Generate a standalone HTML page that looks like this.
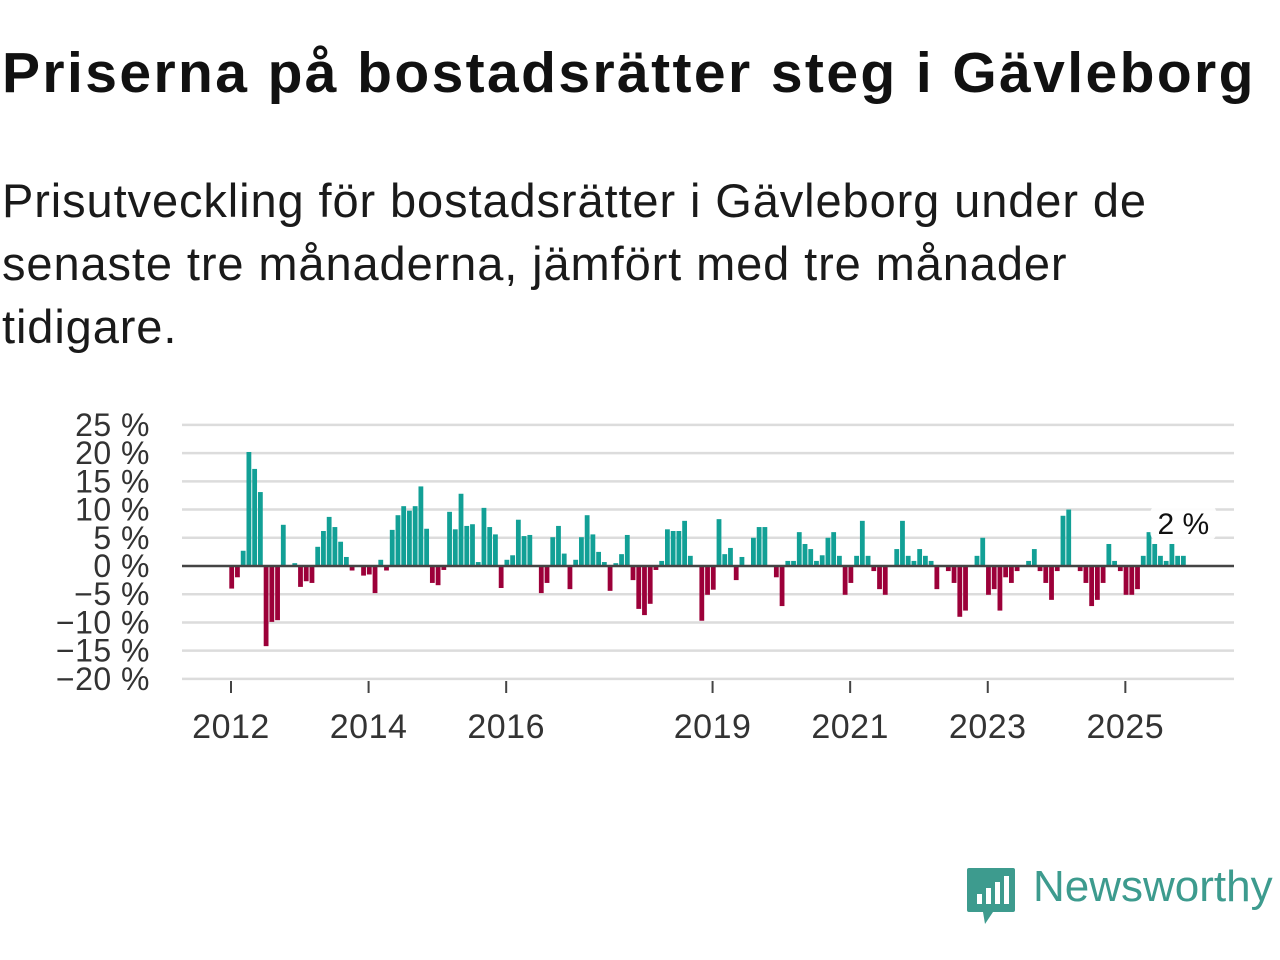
<!DOCTYPE html>
<html><head><meta charset="utf-8">
<style>
body{margin:0;width:1280px;height:960px;background:#fff;overflow:hidden;font-family:"Liberation Sans",sans-serif;color:#111}
h1{position:absolute;left:2px;top:40px;margin:0;font-size:57px;font-weight:bold;letter-spacing:2.4px;color:#111;white-space:nowrap}
.sub{position:absolute;left:2px;top:169px;margin:0;font-size:47px;line-height:63px;width:1275px;color:#1a1a1a;letter-spacing:0.9px;white-space:nowrap}
svg{position:absolute;left:0;top:0}
</style></head><body>
<h1>Priserna på bostadsrätter steg i Gävleborg</h1>
<p class="sub">Prisutveckling för bostadsrätter i Gävleborg under de<br>senaste tre månaderna, jämfört med tre månader<br>tidigare.</p>
<svg id="chart" width="1280" height="960"></svg>
<div style="position:absolute;left:965px;top:866px;">
<svg width="52" height="60" viewBox="0 0 52 60" style="position:static">
<path d="M4 2H48Q50 2 50 4V44Q50 46 48 46H28L20 58L18 46H4Q2 46 2 44V4Q2 2 4 2Z" fill="#3d9b8e"/>
<rect x="12" y="28" width="5" height="10" fill="#fff"/><rect x="21" y="22" width="5" height="16" fill="#fff"/><rect x="30" y="16" width="5" height="22" fill="#fff"/><rect x="39" y="10" width="5" height="28" fill="#fff"/>
</svg>
<span style="position:absolute;left:68px;top:-4px;font-size:44px;color:#3d9b8e;white-space:nowrap">Newsworthy</span>
</div>
<script>
const values=[-4,-2,2.7,20.2,17.2,13.1,-14.2,-9.9,-9.6,7.3,0,0.5,-3.7,-2.7,-3,3.4,6.2,8.7,6.9,4.3,1.6,-0.8,0,-1.7,-1.5,-4.8,1.1,-0.8,6.4,9.0,10.6,9.8,10.6,14.1,6.6,-3,-3.4,-0.7,9.6,6.5,12.8,7.1,7.4,0.7,10.3,6.9,5.6,-3.9,1.1,1.9,8.2,5.3,5.5,0,-4.8,-3,5.1,7.1,2.2,-4.1,1.1,5.1,9.0,5.6,2.5,0.7,-4.4,0.5,2.1,5.5,-2.5,-7.6,-8.7,-6.7,-0.7,0.9,6.5,6.2,6.2,8.0,1.8,0,-9.7,-5.1,-4.2,8.3,2.1,3.2,-2.5,1.6,0,5.0,6.9,6.9,0,-2,-7.1,0.9,0.9,6.0,3.9,3.0,0.9,1.9,5.0,6.0,1.8,-5.1,-3.0,1.8,8.0,1.8,-0.9,-4.1,-5.1,0,3.0,8.0,1.8,0.9,3.0,1.8,0.9,-4.1,0,-0.9,-3.0,-9.0,-7.9,0,1.8,5.0,-5.1,-4.1,-7.9,-2.0,-3.0,-0.9,0,0.9,3.0,-0.9,-3.0,-6.0,-0.9,8.9,10.0,0,-0.9,-3.0,-7.1,-6.0,-3.0,3.9,0.9,-0.9,-5.1,-5.1,-4.1,1.8,6.0,3.9,1.8,0.9,3.9,1.8,1.8];
const yTicks=[25,20,15,10,5,0,-5,-10,-15,-20];
const yTickLabels=["25 %","20 %","15 %","10 %","5 %","0 %","\u22125 %","\u221210 %","\u221215 %","\u221220 %"];
const xTickYears=[2012,2014,2016,2019,2021,2023,2025];
const lastLabel="2 %";
const svg=document.getElementById('chart');
const NS="http://www.w3.org/2000/svg";
const x0=182,x1=1234;
function y(v){return 566-v*5.644;}
function xm(i){return 231.7+i*5.733;}
function xYear(yr){return xm((yr-2012)*12)-0.7;}
function mk(t,a){const e=document.createElementNS(NS,t);for(const k in a)e.setAttribute(k,a[k]);svg.appendChild(e);return e;}
yTicks.forEach((v,k)=>{
  if(v!==0){const g=mk('line',{x1:x0,x2:x1,y1:y(v),y2:y(v),stroke:'#dcdcdc','stroke-width':2.5});
  
  }
  const t=mk('text',{x:150,y:y(v)+11,'text-anchor':'end','font-size':32,fill:'#333','font-family':'Liberation Sans, sans-serif','letter-spacing':'0.5'});
  t.textContent=yTickLabels[k];
  
  
});
values.forEach((v,i)=>{
  if(v===0)return;
  const top=v>0?y(v):y(0), h=Math.abs(y(v)-y(0));
  const r=mk('rect',{x:xm(i)-2.4,y:top,width:4.8,height:h,fill:v>0?'#12a096':'#9c0039'});
  
  
});
const z=mk('line',{x1:x0,x2:x1,y1:y(0),y2:y(0),stroke:'#444','stroke-width':2.5});


xTickYears.forEach(yr=>{
  const xx=xYear(yr);
  const tk=mk('line',{x1:xx,x2:xx,y1:681,y2:693,stroke:'#444','stroke-width':2});
  
  
  const t=mk('text',{x:xx,y:738,'text-anchor':'middle','font-size':34,fill:'#333','font-family':'Liberation Sans, sans-serif','letter-spacing':'0.5'});
  t.textContent=yr;
  
  
});
const li=values.length-1;
const bg=mk('rect',{x:xm(li)-33,y:505,width:66,height:36,rx:8,fill:'#fff','fill-opacity':0.9});


const lt=mk('text',{x:xm(li),y:534,'text-anchor':'middle','font-size':30,fill:'#111','font-family':'Liberation Sans, sans-serif'});
lt.textContent=lastLabel;


</script>
</body></html>
